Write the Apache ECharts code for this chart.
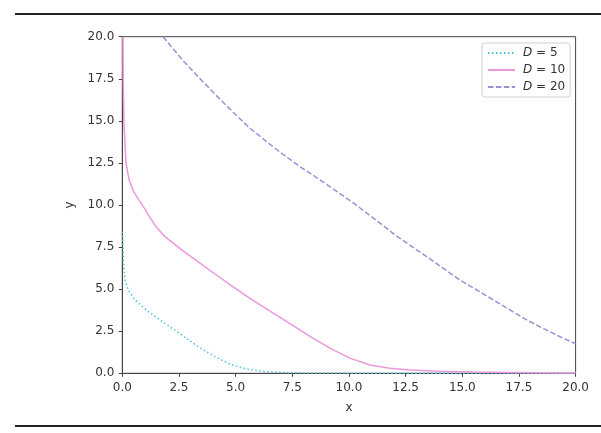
<!DOCTYPE html>
<html>
<head>
<meta charset="utf-8">
<script src="https://cdn.jsdelivr.net/npm/echarts@6/dist/echarts.min.js"></script>
<style>html,body{margin:0;padding:0;background:#fff}#c{width:601px;height:433px}</style>
</head>
<body>
<div id="c"></div>
<script>
// Data
const xTicks = [0, 2.5, 5, 7.5, 10, 12.5, 15, 17.5, 20];
const yTicks = [0, 2.5, 5, 7.5, 10, 12.5, 15, 17.5, 20];

const seriesNames = ['D = 5', 'D = 10', 'D = 20'];

const d5X = [0, 0.03, 0.06, 0.12, 0.26, 0.56, 1.15, 1.88, 2.62, 3.35, 4.09, 4.83, 5.5, 6.2, 7, 8, 10, 12.5, 15, 17.5, 20];
const d5Y = [8.41, 7.52, 6.3, 5.54, 4.95, 4.36, 3.66, 2.97, 2.28, 1.58, 0.99, 0.49, 0.25, 0.12, 0.05, 0.02, 0.01, 0, 0, 0, 0];

const d10X = [0.03, 0.04, 0.07, 0.16, 0.3, 0.5, 0.78, 1.0, 1.15, 1.5, 1.88, 2.62, 3.35, 4.09, 4.83, 5.63, 6.52, 7.4, 8.28, 9.16, 10.04, 10.93, 11.8, 12.7, 14, 15.5, 17, 18.5, 20];
const d10Y = [20, 17.5, 15, 12.5, 11.5, 10.8, 10.2, 9.75, 9.4, 8.7, 8.12, 7.33, 6.62, 5.9, 5.2, 4.45, 3.7, 2.95, 2.2, 1.5, 0.9, 0.49, 0.3, 0.2, 0.12, 0.07, 0.05, 0.03, 0.02];

const d20X = [1.8, 2.6, 3.4, 4.15, 4.9, 5.6, 6.37, 7.1, 7.84, 8.6, 9.31, 10.27, 11.2, 11.96, 12.7, 13.43, 14.15, 14.9, 15.6, 16.37, 17.1, 17.84, 18.6, 19.31, 20];
const d20Y = [20, 18.7, 17.55, 16.5, 15.5, 14.6, 13.76, 13.0, 12.28, 11.6, 10.95, 10.05, 9.1, 8.3, 7.6, 6.93, 6.25, 5.54, 4.98, 4.36, 3.77, 3.17, 2.65, 2.17, 1.76];

const colors = ['#4cc4d8', '#ea98dc', '#9b90d4'];
const dashes = [[1.5, 2.5], 'solid', [5.5, 2.4]];

function pairs(xs, ys) { return xs.map((x, i) => [x, ys[i]]); }
const dataSets = [pairs(d5X, d5Y), pairs(d10X, d10Y), pairs(d20X, d20Y)];

const chart = echarts.init(document.getElementById('c'), null, { renderer: 'canvas' });
const font = 'DejaVu Sans';

chart.setOption({
  animation: false,
  backgroundColor: '#fff',
  grid: { left: 122.3, right: 25.4, top: 36.7, bottom: 59.7, show: true, borderColor: '#444', borderWidth: 1, backgroundColor: 'transparent' },
  xAxis: {
    type: 'value', min: 0, max: 20, interval: 2.5,
    name: 'x', nameLocation: 'middle', nameGap: 29,
    nameTextStyle: { fontFamily: font, fontSize: 12, color: '#333' },
    axisLine: { show: true, onZero: false, lineStyle: { color: '#444', width: 1 } },
    axisTick: { show: true, length: 3.5, lineStyle: { color: '#444' } },
    axisLabel: { fontFamily: font, fontSize: 12, color: '#333', margin: 9, formatter: v => v.toFixed(1) },
    splitLine: { show: false }
  },
  yAxis: {
    type: 'value', min: 0, max: 20, interval: 2.5,
    name: 'y', nameLocation: 'middle', nameGap: 46, nameRotate: 90,
    nameTextStyle: { fontFamily: font, fontSize: 12, color: '#333' },
    axisLine: { show: true, onZero: false, lineStyle: { color: '#444', width: 1 } },
    axisTick: { show: true, length: 3.5, lineStyle: { color: '#444' } },
    axisLabel: { fontFamily: font, fontSize: 12, color: '#333', margin: 8, formatter: v => v.toFixed(1) },
    splitLine: { show: false }
  },
  legend: {
    orient: 'vertical', left: 482, top: 43,
    padding: [4, 5, 4, 5], itemGap: 5, itemWidth: 27, itemHeight: 14,
    borderColor: '#d0d0d0', borderWidth: 1, borderRadius: 3, backgroundColor: '#fff',
    itemStyle: { opacity: 0, borderWidth: 0 },
    data: seriesNames,
    formatter: name => '{i|D} = ' + name.split('= ')[1],
    textStyle: {
      fontFamily: font, fontSize: 12, color: '#333', padding: [0, 0, 0, 3],
      rich: { i: { fontFamily: font, fontStyle: 'italic', fontSize: 12, color: '#333' } }
    }
  },
  graphic: [
    { type: 'line', shape: { x1: 15, y1: 14, x2: 601, y2: 14 }, style: { stroke: '#222', lineWidth: 2 } },
    { type: 'line', shape: { x1: 15, y1: 426, x2: 601, y2: 426 }, style: { stroke: '#222', lineWidth: 2 } }
  ],
  series: seriesNames.map((n, i) => ({
    name: n, type: 'line', data: dataSets[i], showSymbol: false, symbol: 'none',
    smooth: false, clip: true,
    lineStyle: { color: colors[i], width: 1.5, type: dashes[i], cap: 'butt' },
    itemStyle: { color: colors[i] }
  }))
});
</script>
</body>
</html>
